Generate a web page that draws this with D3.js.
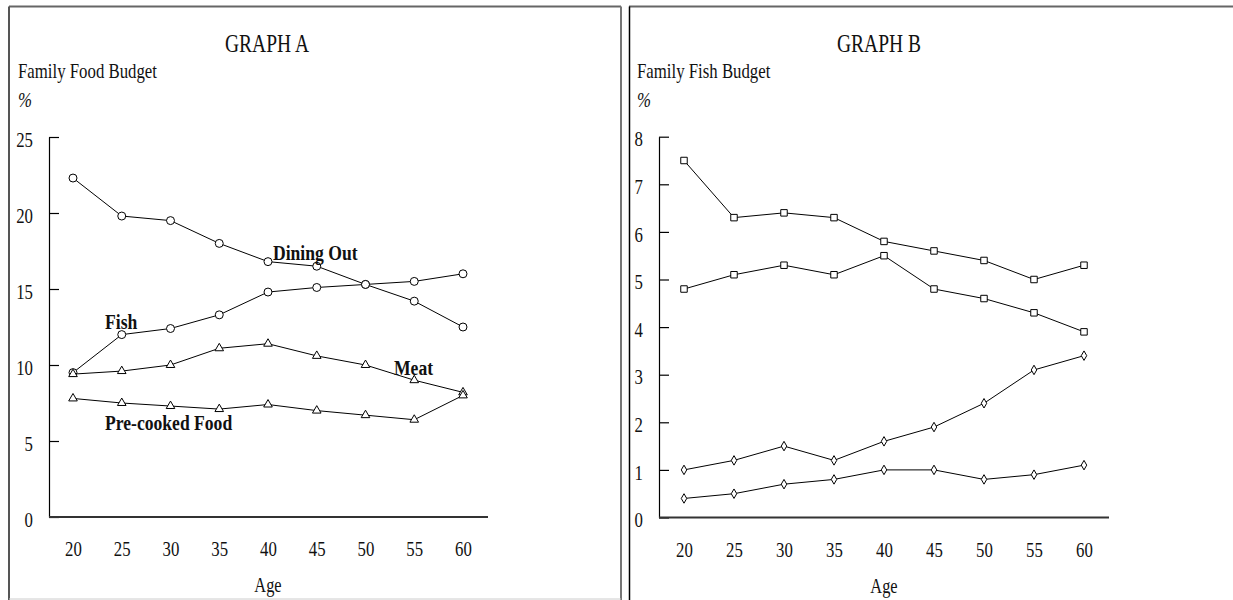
<!DOCTYPE html>
<html><head><meta charset="utf-8">
<script src="https://cdn.jsdelivr.net/npm/d3@7"></script>
<style>body{margin:0;background:#fff}svg{display:block}text{font-family:"Liberation Serif","Times New Roman",serif;fill:#111}</style>
</head><body>
<svg id="c" width="1233" height="600"></svg>
<script>
// ---- data ----
const ages = [20, 25, 30, 35, 40, 45, 50, 55, 60];
const diningOut = [22.3, 19.8, 19.5, 18.0, 16.8, 16.5, 15.3, 14.2, 12.5];
const fishA = [9.5, 12.0, 12.4, 13.3, 14.8, 15.1, 15.3, 15.5, 16.0];
const meat = [9.4, 9.6, 10.0, 11.1, 11.4, 10.6, 10.0, 9.0, 8.2];
const precooked = [7.8, 7.5, 7.3, 7.1, 7.4, 7.0, 6.7, 6.4, 8.0];
const fishB1 = [7.5, 6.3, 6.4, 6.3, 5.8, 5.6, 5.4, 5.0, 5.3];
const fishB2 = [4.8, 5.1, 5.3, 5.1, 5.5, 4.8, 4.6, 4.3, 3.9];
const fishB3 = [1.0, 1.2, 1.5, 1.2, 1.6, 1.9, 2.4, 3.1, 3.4];
const fishB4 = [0.4, 0.5, 0.7, 0.8, 1.0, 1.0, 0.8, 0.9, 1.1];
const yTicksA = [0, 5, 10, 15, 20, 25];
const yTicksB = [0, 1, 2, 3, 4, 5, 6, 7, 8];
const labelsA = ["Dining Out", "Fish", "Meat", "Pre-cooked Food"];

const svg = d3.select("#c");

function txt(str, x, y, size, sx, anchor, weight) {
  return svg.append("text").text(str)
    .attr("transform", `translate(${x},${y}) scale(${sx},1)`)
    .attr("font-size", size).attr("text-anchor", anchor || "start")
    .attr("font-weight", weight || "normal");
}

// panel borders
svg.append("line").attr("x1", 9).attr("y1", 6.5).attr("x2", 621).attr("y2", 6.5).attr("stroke", "#666").attr("stroke-width", 2);
svg.append("line").attr("x1", 9).attr("y1", 6.5).attr("x2", 9).attr("y2", 600).attr("stroke", "#555").attr("stroke-width", 2);
svg.append("line").attr("x1", 621).attr("y1", 6.5).attr("x2", 621).attr("y2", 600).attr("stroke", "#777").attr("stroke-width", 2);
svg.append("line").attr("x1", 9).attr("y1", 599).attr("x2", 621).attr("y2", 599).attr("stroke", "#ccc").attr("stroke-width", 1);
svg.append("line").attr("x1", 629).attr("y1", 6.5).attr("x2", 1233).attr("y2", 6.5).attr("stroke", "#666").attr("stroke-width", 2);
svg.append("line").attr("x1", 629.5).attr("y1", 6.5).attr("x2", 629.5).attr("y2", 600).attr("stroke", "#000").attr("stroke-width", 1.5);

function panel(opt) {
  const x = d3.scaleLinear().domain([20, 60]).range(opt.xr);
  const y = d3.scaleLinear().domain(opt.yd).range(opt.yr);
  const g = svg.append("g");
  // y axis
  const ya = g.append("g").attr("transform", `translate(${opt.ax},0)`)
    .call(d3.axisLeft(y).tickValues(opt.yTicks).tickSize(-10).tickSizeOuter(0).tickPadding(16));
  ya.select(".domain").attr("stroke", "#000").attr("stroke-width", 1.2);
  ya.selectAll(".tick line").attr("stroke", "#000").attr("stroke-width", 1.2);
  ya.selectAll("text").attr("x", 0).attr("dy", "0.44em")
    .attr("font-size", 21).attr("font-family", null)
    .attr("transform", "translate(-16,0) scale(0.8,1)");
  // x axis
  const xa = g.append("g").attr("transform", `translate(0,${opt.yr[0]})`)
    .call(d3.axisBottom(x).tickValues(ages).tickSize(0).tickPadding(0));
  xa.select(".domain").remove();
  xa.selectAll("text").attr("y", 0).attr("dy", 0).attr("font-size", 21).attr("font-family", null)
    .attr("transform", "translate(0,39) scale(0.8,1)");
  g.append("line").attr("x1", opt.ax).attr("x2", opt.xEnd).attr("y1", opt.yr[0]).attr("y2", opt.yr[0])
    .attr("stroke", "#333").attr("stroke-width", 2);
  // series
  const line = d3.line().x((d, i) => x(ages[i])).y(d => y(d));
  opt.series.forEach(s => {
    g.append("path").datum(s.values).attr("d", line).attr("fill", "none").attr("stroke", "#000").attr("stroke-width", 1);
    g.selectAll(null).data(s.values).join("path")
      .attr("transform", (d, i) => `translate(${x(ages[i])},${y(d)})`)
      .attr("d", d3.symbol().type(s.sym).size(s.size))
      .attr("fill", "#fff").attr("stroke", "#000").attr("stroke-width", 1);
  });
  return { x, y };
}

panel({
  xr: [73, 463], yd: [0, 25], yr: [517, 137], ax: 49, xEnd: 488, yTicks: yTicksA,
  series: [
    { values: diningOut, sym: d3.symbolCircle, size: 50 },
    { values: fishA, sym: d3.symbolCircle, size: 50 },
    { values: meat, sym: d3.symbolTriangle, size: 32 },
    { values: precooked, sym: d3.symbolTriangle, size: 32 }
  ]
});
panel({
  xr: [684, 1084], yd: [0, 8], yr: [517.5, 136.7], ax: 659, xEnd: 1109, yTicks: yTicksB,
  series: [
    { values: fishB1, sym: d3.symbolSquare, size: 42 },
    { values: fishB2, sym: d3.symbolSquare, size: 42 },
    { values: fishB3, sym: d3.symbolDiamond, size: 26 },
    { values: fishB4, sym: d3.symbolDiamond, size: 26 }
  ]
});

// titles and labels
txt("GRAPH A", 267, 52, 25, 0.78, "middle");
txt("Family Food Budget", 18, 78, 20, 0.84);
txt("%", 18, 107, 20, 0.84).attr("font-style", "italic");
txt("Age", 268, 592, 20, 0.82, "middle");
txt("GRAPH B", 879, 52, 25, 0.78, "middle");
txt("Family Fish Budget", 637, 78, 20, 0.84);
txt("%", 637, 107, 20, 0.84).attr("font-style", "italic");
txt("Age", 884, 593, 20, 0.82, "middle");

txt(labelsA[0], 273, 260, 20, 0.88, "start", "bold");
txt(labelsA[1], 105, 329, 20, 0.88, "start", "bold");
txt(labelsA[2], 394, 375, 20, 0.88, "start", "bold");
txt(labelsA[3], 105, 430, 20, 0.88, "start", "bold");
</script>
</body></html>
